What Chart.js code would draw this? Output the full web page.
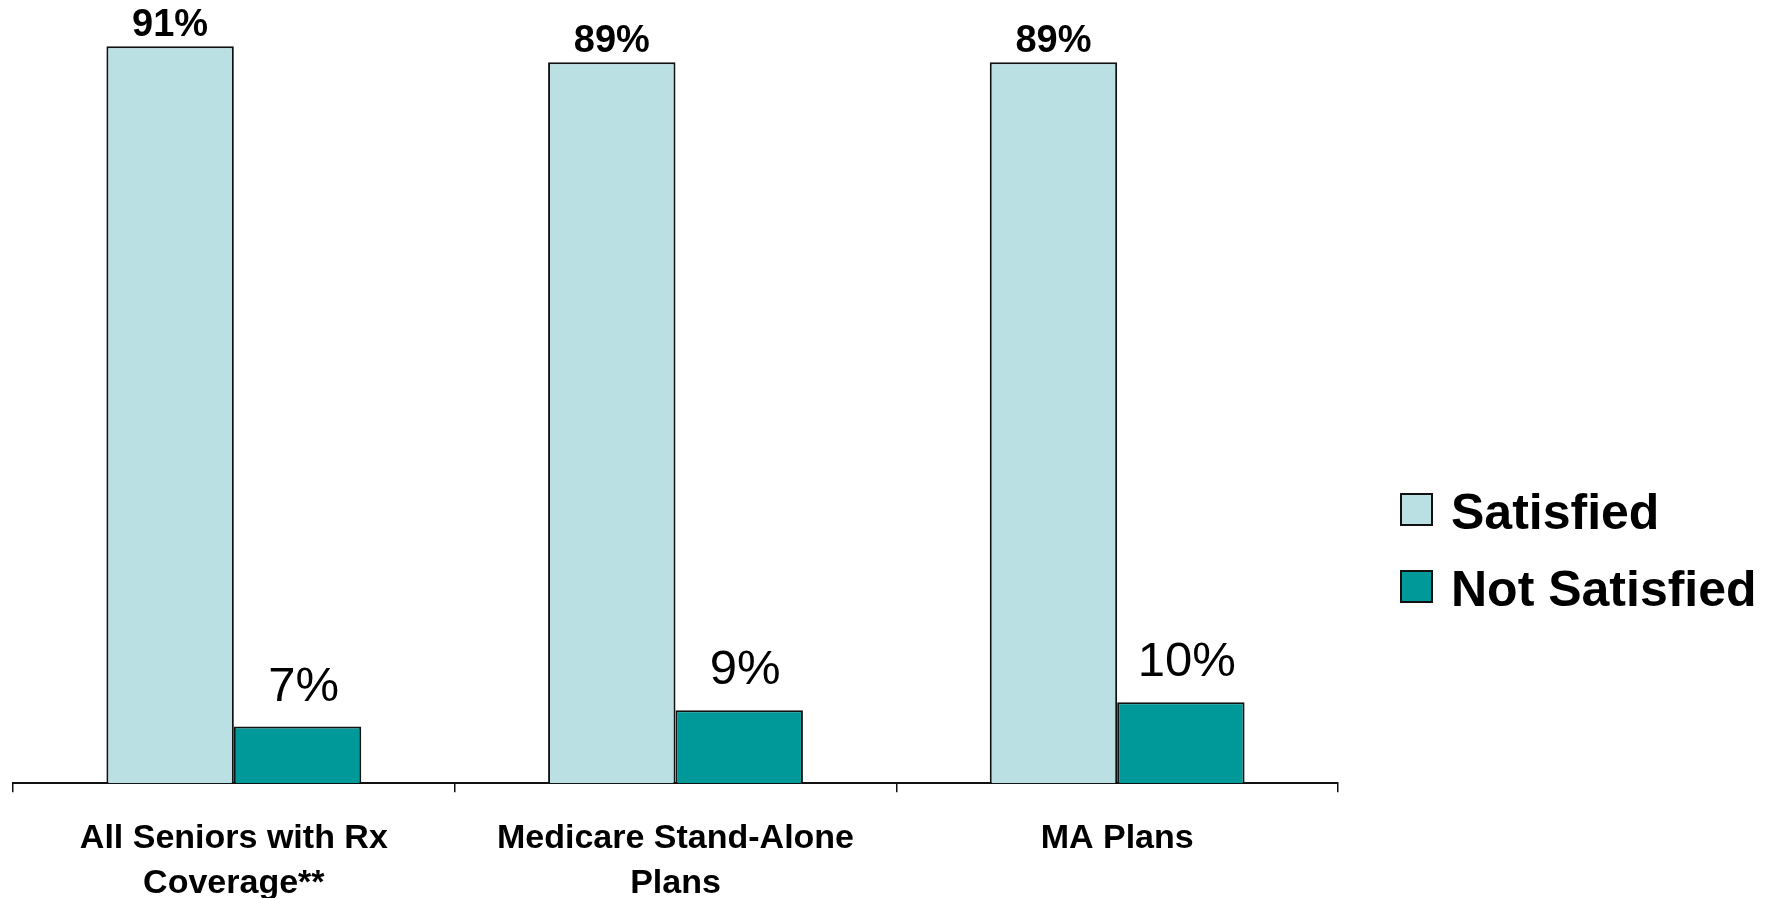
<!DOCTYPE html>
<html lang="en">
<head>
  <meta charset="UTF-8" />
  <title>Satisfaction with drug coverage</title>
  <script src="https://cdn.jsdelivr.net/npm/chart.js"></script>
  <style>
    body { margin: 0; background: #fff; font-family: "Liberation Sans", Arial, sans-serif; }
    #wrap { position: relative; width: 1780px; height: 898px; }
    #legend { position: absolute; left: 1400px; top: 471px; }
    .legend-item { display: flex; align-items: center; height: 77px; }
    .legend-box { width: 29px; height: 29px; border: 2px solid #111; box-sizing: content-box; }
    .legend-text { margin-left: 18px; font-size: 50px; font-weight: bold; color: #000; line-height: 1; padding-top: 4px; }
  </style>
</head>
<body>
  <div id="wrap">
    <canvas id="barChart" width="1780" height="898"></canvas>
    <div id="legend"></div>
  </div>

  <script>
    // categories and series
    const categories = [
      ["All Seniors with Rx", "Coverage**"],
      ["Medicare Stand-Alone", "Plans"],
      "MA Plans"
    ];
    const satisfied = [91, 89, 89];
    const notSatisfied = [7, 9, 10];

    const seriesNames = ["Satisfied", "Not Satisfied"];
    const seriesColors = ["#BBE0E3", "#009999"];

    // value labels above each bar
    const valueLabels = {
      id: "valueLabels",
      afterDatasetsDraw(chart) {
        const ctx = chart.ctx;
        ctx.save();
        ctx.fillStyle = "#000";
        ctx.textAlign = "center";
        ctx.textBaseline = "alphabetic";
        chart.data.datasets.forEach((ds, i) => {
          const meta = chart.getDatasetMeta(i);
          const bold = i === 0;
          ctx.font = bold
            ? 'bold 38px "Liberation Sans", Arial, sans-serif'
            : '49px "Liberation Sans", Arial, sans-serif';
          const gap = bold ? 10 : 26;
          meta.data.forEach((bar, j) => {
            ctx.fillText(ds.data[j] + "%", bar.x + (bold ? 0 : 6), bar.y - gap);
          });
        });
        ctx.restore();
      }
    };

    const chart = new Chart(document.getElementById("barChart"), {
      type: "bar",
      data: {
        labels: categories,
        datasets: [
          {
            label: seriesNames[0],
            data: satisfied,
            backgroundColor: seriesColors[0],
            borderColor: "#111",
            borderWidth: 2
          },
          {
            label: seriesNames[1],
            data: notSatisfied,
            backgroundColor: seriesColors[1],
            borderColor: "#111",
            borderWidth: 2
          }
        ]
      },
      options: {
        responsive: false,
        animation: false,
        categoryPercentage: 0.577,
        barPercentage: 1.0,
        layout: {
          padding: { left: 13, right: 442, top: 0, bottom: -32 }
        },
        plugins: {
          legend: { display: false },
          tooltip: { enabled: false }
        },
        scales: {
          x: {
            grid: {
              display: true,
              drawOnChartArea: false,
              drawTicks: true,
              tickLength: 9,
              color: "#111",
              lineWidth: 1.5
            },
            border: { display: true, color: "#111", width: 2 },
            ticks: {
              color: "#000",
              padding: 23,
              maxRotation: 0,
              font: { family: '"Liberation Sans", Arial, sans-serif', size: 34, weight: "bold", lineHeight: 1.35 }
            }
          },
          y: {
            display: false,
            min: 0,
            max: 96.7
          }
        }
      },
      plugins: [valueLabels]
    });

    // legend built from the datasets
    const legendEl = document.getElementById("legend");
    chart.data.datasets.forEach(ds => {
      const item = document.createElement("div");
      item.className = "legend-item";
      item.innerHTML = `<span class="legend-box" style="background:${ds.backgroundColor}"></span>` +
        `<span class="legend-text">${ds.label}</span>`;
      legendEl.appendChild(item);
    });
  </script>
</body>
</html>
